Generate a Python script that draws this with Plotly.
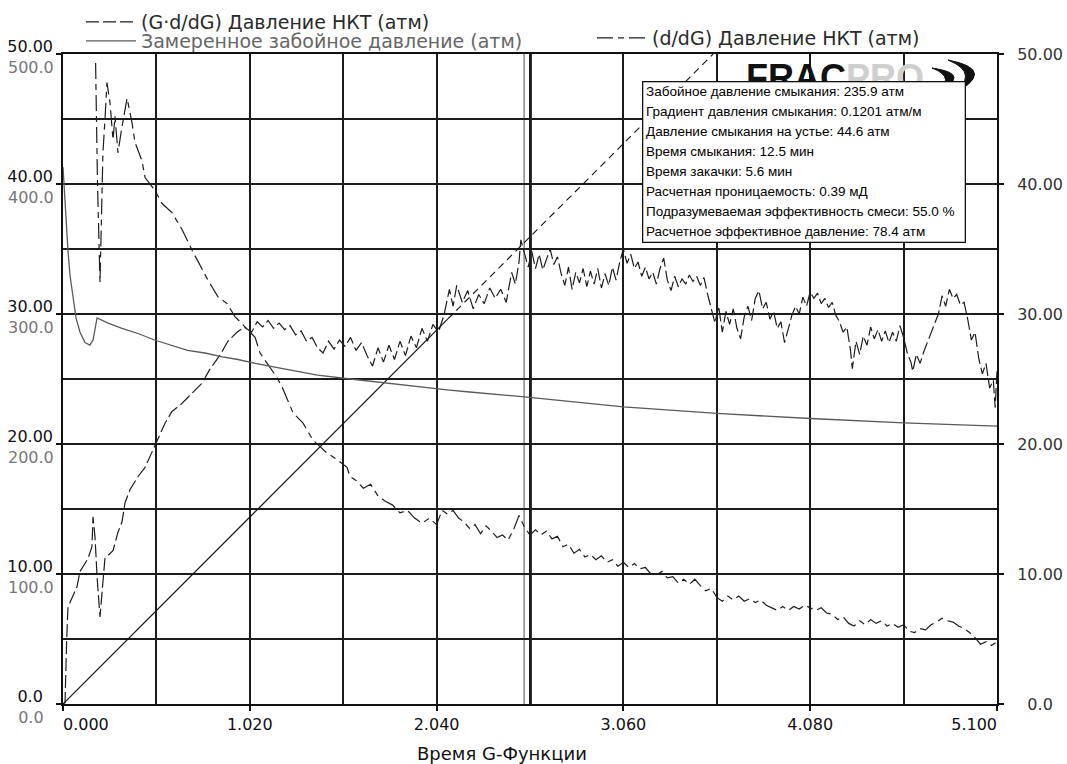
import plotly.graph_objects as go

# ---------------- data ----------------
# G-function time axis
x_tick_vals = [0.0, 1.02, 2.04, 3.06, 4.08, 5.10]
x_tick_text = ["\u00a0" * 9 + "0.000", "1.020", "2.040", "3.060", "4.080", "5.100" + "\u00a0" * 9]
x_minor_vals = [0.51, 1.53, 2.55, 3.57, 4.59]

# 0..50 atm scale (left upper labels and right axis)
y_tick_vals = [0, 10, 20, 30, 40, 50]
y_left_text = ["0.0\u00a0\u00a0", "10.00", "20.00", "30.00", "40.00", "50.00"]
y_right_text = ["\u00a0\u00a00.0", "10.00", "20.00", "30.00", "40.00", "50.00"]
y_minor_vals = [5, 15, 25, 35, 45]

# 0..500 atm scale (left lower grey labels, measured BHP)
bhp_tick_vals = [0, 100, 200, 300, 400, 500]
bhp_tick_text = ["0.0\u00a0\u00a0", "100.0", "200.0", "300.0", "400.0", "500.0"]

# (G*d/dG) tubing pressure
ggf_g = [
    0.000, 0.011, 0.020, 0.027, 0.038, 0.076, 0.093, 0.137, 0.158, 0.164,
    0.175, 0.186, 0.202, 0.218, 0.229, 0.273, 0.300, 0.322, 0.339, 0.366,
    0.410, 0.448, 0.490, 0.520, 0.557, 0.595, 0.640, 0.683, 0.720, 0.760,
    0.800, 0.860, 0.900, 0.950, 0.990, 1.030, 1.060, 1.090, 1.120, 1.150,
    1.180, 1.210, 1.240, 1.270, 1.300, 1.330, 1.360, 1.390, 1.420, 1.450,
    1.480, 1.510, 1.540, 1.570, 1.600, 1.630, 1.660, 1.690, 1.720, 1.750,
    1.780, 1.810, 1.840, 1.870, 1.900, 1.930, 1.960, 1.990, 2.020, 2.050,
    2.080, 2.110, 2.130, 2.150, 2.180, 2.210, 2.240, 2.270, 2.300, 2.330,
    2.360, 2.390, 2.420, 2.450, 2.470, 2.490, 2.500, 2.520, 2.540, 2.560,
    2.580, 2.600, 2.620, 2.640, 2.660, 2.680, 2.700, 2.720, 2.740, 2.760,
    2.780, 2.800, 2.820, 2.840, 2.860, 2.880, 2.900, 2.920, 2.940, 2.960,
    2.980, 3.000, 3.020, 3.040, 3.060, 3.080, 3.100, 3.120, 3.140, 3.160,
    3.180, 3.200, 3.220, 3.240, 3.260, 3.280, 3.300, 3.320, 3.340, 3.360,
    3.380, 3.400, 3.420, 3.440, 3.460, 3.480, 3.500, 3.520, 3.540, 3.560,
    3.580, 3.600, 3.620, 3.640, 3.660, 3.680, 3.700, 3.720, 3.740, 3.760,
    3.780, 3.800, 3.820, 3.840, 3.860, 3.880, 3.900, 3.920, 3.940, 3.960,
    3.980, 4.000, 4.020, 4.040, 4.060, 4.080, 4.100, 4.120, 4.140, 4.160,
    4.180, 4.200, 4.220, 4.240, 4.260, 4.280, 4.300, 4.310, 4.330, 4.350,
    4.370, 4.390, 4.410, 4.430, 4.450, 4.470, 4.490, 4.510, 4.530, 4.550,
    4.570, 4.590, 4.610, 4.630, 4.640, 4.660, 4.680, 4.700, 4.720, 4.740,
    4.760, 4.780, 4.800, 4.820, 4.840, 4.860, 4.880, 4.900, 4.920, 4.940,
    4.960, 4.980, 5.000, 5.020, 5.040, 5.060, 5.080, 5.090, 5.100,
]
ggf_v = [
    0.0, 0.1, 4.9, 7.4, 7.8, 9.0, 10.2, 11.2, 12.1, 14.4,
    12.8, 9.8, 6.7, 9.3, 11.2, 11.8, 13.2, 14.0, 15.5, 16.5,
    17.5, 18.2, 19.5, 20.5, 21.6, 22.5, 23.0, 23.6, 24.1, 24.7,
    25.7, 26.9, 27.9, 28.6, 29.0, 28.6, 29.4, 29.0, 29.5, 28.9,
    29.3, 28.8, 29.1, 28.4, 28.7, 27.9, 28.2, 27.4, 27.0, 27.9,
    27.3, 28.0, 27.5, 28.2, 27.2, 27.8, 26.8, 26.0, 27.4, 26.3,
    27.6, 26.5, 27.9, 26.8, 28.3, 27.4, 28.9, 27.9, 29.2, 28.6,
    29.9, 31.9, 30.6, 32.2, 30.9, 31.8, 30.4, 31.5, 30.8, 32.0,
    31.2, 31.9, 30.9, 33.2, 32.3, 34.0, 35.7, 34.6, 33.6, 34.8,
    33.5, 34.6, 33.4, 34.2, 35.0, 33.8, 34.4, 33.1, 32.2, 33.6,
    31.9, 33.2, 32.4, 33.5, 32.1, 33.3, 32.3, 33.5, 32.0, 33.1,
    32.2, 33.6, 32.6, 34.0, 35.0, 33.9, 34.6, 33.5, 34.0, 32.9,
    33.6, 32.7, 33.2, 32.3, 33.5, 34.3, 32.6, 31.8, 32.9, 32.1,
    32.7, 32.3, 33.0, 32.5, 32.9, 32.2, 32.8, 31.5, 30.5, 29.3,
    30.6, 28.6, 30.2, 29.2, 30.4, 28.9, 28.1, 29.8, 30.6, 29.5,
    31.2, 31.8, 30.4, 30.9, 29.6, 30.2, 28.9, 29.4, 27.8, 28.9,
    29.9, 30.6, 30.0, 31.3, 30.6, 31.7, 31.2, 31.6, 30.8, 31.2,
    30.5, 30.9, 29.9, 29.4, 28.6, 29.0, 27.2, 25.8, 27.9, 26.9,
    28.3, 27.6, 29.0, 28.1, 28.8, 27.9, 28.7, 27.8, 28.6, 27.9,
    29.1, 28.2, 27.0, 26.3, 25.6, 26.9, 26.2, 27.1, 27.8, 28.5,
    29.2, 30.0, 31.4, 30.6, 31.9, 31.2, 31.5, 30.7, 30.9, 29.6,
    28.0, 28.6, 26.6, 25.4, 26.2, 24.3, 24.9, 22.8, 25.6,
]

# (d/dG) tubing pressure
deriv_g = [
    0.178, 0.188, 0.202, 0.210, 0.218, 0.229, 0.240, 0.257, 0.273, 0.284,
    0.300, 0.322, 0.350, 0.377, 0.393, 0.431, 0.448, 0.502, 0.541, 0.595,
    0.650, 0.705, 0.759, 0.792, 0.847, 0.896, 0.939, 0.994, 1.049, 1.076,
    1.131, 1.169, 1.196, 1.256, 1.311, 1.365, 1.404, 1.442, 1.496, 1.551,
    1.567, 1.600, 1.640, 1.680, 1.720, 1.760, 1.800, 1.840, 1.880, 1.920,
    1.960, 2.000, 2.040, 2.070, 2.100, 2.130, 2.160, 2.190, 2.220, 2.250,
    2.280, 2.310, 2.340, 2.370, 2.400, 2.430, 2.460, 2.490, 2.520, 2.550,
    2.580, 2.610, 2.640, 2.670, 2.700, 2.730, 2.760, 2.790, 2.820, 2.850,
    2.880, 2.910, 2.940, 2.970, 3.000, 3.030, 3.060, 3.090, 3.120, 3.150,
    3.180, 3.210, 3.240, 3.270, 3.300, 3.330, 3.360, 3.390, 3.420, 3.450,
    3.480, 3.510, 3.540, 3.570, 3.600, 3.630, 3.660, 3.690, 3.720, 3.750,
    3.780, 3.810, 3.840, 3.870, 3.900, 3.930, 3.960, 3.990, 4.020, 4.050,
    4.080, 4.110, 4.140, 4.170, 4.200, 4.230, 4.260, 4.290, 4.320, 4.350,
    4.380, 4.410, 4.440, 4.470, 4.500, 4.530, 4.560, 4.590, 4.620, 4.650,
    4.680, 4.710, 4.740, 4.770, 4.800, 4.830, 4.860, 4.890, 4.920, 4.950,
    4.980, 5.010, 5.040, 5.070, 5.100,
]
deriv_v = [
    49.3, 40.3, 32.4, 38.8, 42.4, 44.9, 47.8, 46.2, 43.4, 45.2,
    42.4, 44.4, 46.6, 44.7, 43.2, 41.8, 40.5, 39.5, 38.5, 37.8,
    36.5, 34.9, 33.4, 32.6, 31.3, 30.8, 29.8, 29.0, 28.2, 27.0,
    25.9, 25.1, 24.4, 22.4, 21.6, 20.3, 19.8, 19.3, 18.8, 18.2,
    17.5, 17.2, 16.6, 16.9, 16.0, 15.6, 15.3, 14.7, 14.9, 14.3,
    13.9, 14.3, 13.8, 14.9, 14.6, 14.9, 14.3, 14.0, 13.5, 13.8,
    13.1, 13.7, 13.3, 12.8, 13.0, 12.6, 13.4, 14.5, 13.6, 13.0,
    13.4, 13.0, 13.3, 12.7, 12.9, 12.1, 12.3, 11.6, 11.9, 11.3,
    11.5, 11.1, 11.4, 10.9, 11.1, 10.6, 10.9, 10.5, 10.8, 10.4,
    10.5, 10.0, 9.9, 10.2, 9.7, 9.8, 9.3, 9.6, 9.2, 9.6,
    9.1, 8.7, 8.9, 8.2, 7.9, 8.3, 8.0, 8.3, 7.9, 8.1,
    7.8, 8.0, 7.6, 7.4, 7.2, 7.5, 7.2, 7.5, 7.3, 7.6,
    7.4, 7.2, 7.4, 7.0, 6.9, 6.5, 6.7, 6.2, 6.0, 6.4,
    6.1, 6.5, 6.2, 6.4, 6.0, 6.2, 5.9, 6.1, 5.6, 5.5,
    5.8, 5.7, 6.1, 6.3, 6.6, 6.4, 6.3, 6.0, 5.8, 5.5,
    5.1, 4.6, 4.8, 4.5, 4.8,
]

# measured bottom-hole pressure (atm, 0..500 scale)
bhp_g = [
    0.000, 0.005, 0.016, 0.027, 0.038, 0.055, 0.071, 0.093, 0.120, 0.147,
    0.164, 0.186, 0.246, 0.322, 0.410, 0.500, 0.595, 0.680, 0.775, 0.870,
    0.955, 1.050, 1.200, 1.390, 1.570, 1.750, 1.930, 2.110, 2.220, 2.520,
    3.060, 3.570, 4.080, 4.590, 5.100,
]
bhp_v = [
    413, 399, 376, 349, 330, 311, 297, 286, 278, 276,
    280, 297, 293, 289, 285, 280, 276, 272, 270, 267,
    265, 262, 258, 253, 250, 247, 244, 241.5, 240, 236.2,
    228.5, 223.5, 219.6, 216.2, 213.8,
]

# straight tangent line through the origin (solid part, then dashed part)
tangent_g = [0.0, 2.10, 3.55]
tangent_v = [0.0, 29.6, 50.0]

# closure markers (G)
closure_g = [2.518, 2.556]
closure_colors = ["#8a8a8a", "#111111"]

summary_lines = [
    "Забойное давление смыкания: 235.9 атм",
    "Градиент давления смыкания: 0.1201 атм/м",
    "Давление смыкания на устье: 44.6 атм",
    "Время смыкания: 12.5 мин",
    "Время закачки: 5.6 мин",
    "Расчетная проницаемость: 0.39 мД",
    "Подразумеваемая эффективность смеси: 55.0 %",
    "Расчетное эффективное давление: 78.4 атм",
]

# ---------------- layout helpers ----------------
W, H = 1067, 764
PL, PR, PT, PB = 63, 997, 54, 704


def px_x(px):
    return (px - PL) / (PR - PL)


def px_y(py):
    return (PB - py) / (PB - PT)


TICK_FONT = "DejaVu Sans"
GRID = "#1c1c1c"
INK = "#1e1e1e"

fig = go.Figure()

fig.add_trace(go.Scatter(
    x=ggf_g, y=ggf_v, mode="lines", name="(G·d/dG) Давление НКТ (атм)",
    line=dict(color=INK, width=1.2, dash="13px,4px"),
    legend="legend", yaxis="y", hoverinfo="skip"))
fig.add_trace(go.Scatter(
    x=bhp_g, y=bhp_v, mode="lines", name="Замеренное забойное давление (атм)",
    line=dict(color="#5a5a5a", width=1.3),
    legend="legend2", yaxis="y3", hoverinfo="skip"))
fig.add_trace(go.Scatter(
    x=deriv_g, y=deriv_v, mode="lines", name="(d/dG) Давление НКТ (атм)",
    line=dict(color=INK, width=1.2, dash="16px,5px,6px,5px"),
    legend="legend3", yaxis="y2", hoverinfo="skip"))
fig.add_trace(go.Scatter(
    x=tangent_g[:2], y=tangent_v[:2], mode="lines", showlegend=False,
    line=dict(color="#111", width=1.2), yaxis="y", hoverinfo="skip"))
fig.add_trace(go.Scatter(
    x=tangent_g[1:], y=tangent_v[1:], mode="lines", showlegend=False,
    line=dict(color="#111", width=1.1, dash="7px,5px"), yaxis="y", hoverinfo="skip"))

for g, c in zip(closure_g, closure_colors):
    fig.add_shape(type="line", xref="x", yref="paper", x0=g, x1=g, y0=0, y1=1,
                  line=dict(color=c, width=1.5), layer="between")


# FRACPRO logo swoosh (decoration, mostly hidden behind the summary box)
def path_px(points):
    s = ""
    for cmd, pts in points:
        s += cmd + " " + " ".join(f"{px_x(a):.5f},{px_y(b):.5f}" for a, b in pts) + " "
    return s + "Z"


fig.add_shape(type="path", xref="paper", yref="paper", layer="above",
              path=path_px([("M", [(948, 60)]), ("Q", [(1000, 70), (950, 96)]),
                            ("Q", [(982, 74), (948, 60)])]),
              fillcolor="#111", line=dict(color="#111", width=1))
fig.add_shape(type="path", xref="paper", yref="paper", layer="above",
              path=path_px([("M", [(932, 68)]), ("Q", [(975, 74), (934, 94)]),
                            ("Q", [(958, 78), (932, 68)])]),
              fillcolor="#111", line=dict(color="#111", width=1))

annotations = []
# logo lettering, clipped by its own box so that it ends where the summary box starts
annotations.append(dict(
    xref="paper", yref="paper", x=px_x(744), y=px_y(55), xanchor="left", yanchor="top",
    width=196, height=26, valign="top", align="left",
    text="<b>FRAC</b><span style='color:#cfcfcf'><b>PRO</b></span>",
    showarrow=False, font=dict(family="Liberation Sans", size=36, color="#111")))
# summary box
annotations.append(dict(
    xref="paper", yref="paper", x=px_x(642), y=px_y(81), xanchor="left", yanchor="top",
    text=" ", width=321, height=159, bgcolor="white", bordercolor="#111",
    borderwidth=1.3, borderpad=0, showarrow=False, font=dict(size=10)))
for i, line in enumerate(summary_lines):
    annotations.append(dict(
        xref="paper", yref="paper", x=px_x(644), y=px_y(91 + 20 * i),
        xanchor="left", yanchor="middle", text=line, showarrow=False,
        font=dict(family="Liberation Sans", size=13.5, color="#000")))
# x axis title
annotations.append(dict(
    xref="paper", yref="paper", x=px_x(502), y=px_y(753), xanchor="center", yanchor="middle",
    text="Время G-Функции", showarrow=False,
    font=dict(family="DejaVu Sans", size=18, color="#111")))

axis_common = dict(zeroline=False, fixedrange=True, automargin=False)

fig.update_layout(
    width=W, height=H, autosize=False,
    margin=dict(l=PL, r=W - PR, t=PT, b=H - PB, pad=0, autoexpand=False),
    paper_bgcolor="white", plot_bgcolor="white",
    hovermode=False,
    xaxis=dict(
        range=[0, 5.1], tickmode="array", tickvals=x_tick_vals, ticktext=x_tick_text,
        tickfont=dict(family=TICK_FONT, size=16, color="#111"),
        ticks="outside", ticklen=5, tickwidth=1.5, tickcolor="#111", ticklabelstandoff=0,
        showgrid=True, gridcolor=GRID, gridwidth=1.5,
        minor=dict(tickmode="array", tickvals=x_minor_vals, showgrid=True,
                   gridcolor=GRID, gridwidth=1.5, ticks=""),
        showline=True, linecolor="#111", linewidth=1.5, mirror=True, **axis_common),
    yaxis=dict(
        range=[0, 50], tickmode="array", tickvals=y_tick_vals, ticktext=y_left_text,
        tickfont=dict(family=TICK_FONT, size=16, color="#111"), ticklabelshift=-8,
        ticks="outside", ticklen=5, tickwidth=1.5, tickcolor="#111",
        showgrid=True, gridcolor=GRID, gridwidth=1.5,
        minor=dict(tickmode="array", tickvals=y_minor_vals, showgrid=True,
                   gridcolor=GRID, gridwidth=1.5, ticks=""),
        showline=True, linecolor="#111", linewidth=1.5, mirror=True, **axis_common),
    yaxis2=dict(
        range=[0, 50], overlaying="y", side="right", anchor="x",
        tickmode="array", tickvals=y_tick_vals, ticktext=y_right_text,
        tickfont=dict(family=TICK_FONT, size=16, color="#333"),
        ticks="outside", ticklen=6, tickwidth=1.5, tickcolor="#111", ticklabelstandoff=10,
        showgrid=False, showline=False, **axis_common),
    yaxis3=dict(
        range=[0, 500], overlaying="y", side="left", anchor="x",
        tickmode="array", tickvals=bhp_tick_vals, ticktext=bhp_tick_text,
        tickfont=dict(family=TICK_FONT, size=16, color="#777"), ticklabelshift=13,
        ticks="outside", ticklen=5, tickwidth=1.5, tickcolor="#111",
        showgrid=False, showline=False, **axis_common),
    legend=dict(x=px_x(81), y=px_y(22), xanchor="left", yanchor="middle",
                bgcolor="rgba(0,0,0,0)", itemwidth=50,
                font=dict(family="DejaVu Sans", size=19, color="#2a2a2a")),
    legend2=dict(x=px_x(81), y=px_y(41), xanchor="left", yanchor="middle",
                 bgcolor="rgba(0,0,0,0)", itemwidth=50,
                 font=dict(family="DejaVu Sans", size=19, color="#666")),
    legend3=dict(x=px_x(592), y=px_y(38), xanchor="left", yanchor="middle",
                 bgcolor="rgba(0,0,0,0)", itemwidth=50,
                 font=dict(family="DejaVu Sans", size=19, color="#2a2a2a")),
    annotations=annotations,
)

fig.write_html("out.html")
